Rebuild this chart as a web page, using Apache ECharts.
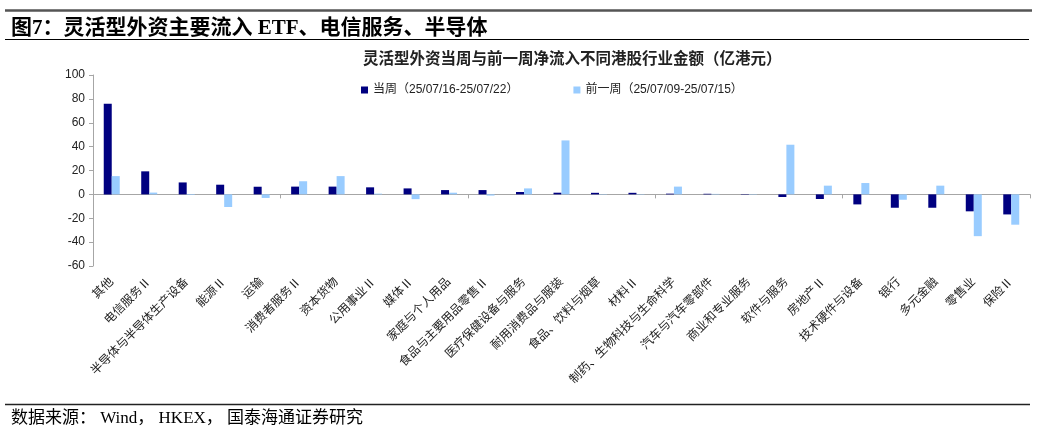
<!DOCTYPE html>
<html><head><meta charset="utf-8">
<script src="https://cdn.jsdelivr.net/npm/echarts@6/dist/echarts.min.js"></script>
<style>html,body{margin:0;padding:0;background:#fff}#c{width:1037px;height:430px}</style>
</head><body><div id="c"></div>
<script>
const categories = ['其他','电信服务Ⅱ','半导体与半导体生产设备','能源Ⅱ','运输','消费者服务Ⅱ','资本货物','公用事业Ⅱ','媒体Ⅱ','家庭与个人用品','食品与主要用品零售Ⅱ','医疗保健设备与服务','耐用消费品与服装','食品、饮料与烟草','材料Ⅱ','制药、生物科技与生命科学','汽车与汽车零部件','商业和专业服务','软件与服务','房地产Ⅱ','技术硬件与设备','银行','多元金融','零售业','保险Ⅱ'];
const currentWeek = [76, 19.3, 10, 8.1, 6.4, 6.5, 6.5, 5.9, 5, 3.6, 3.6, 2, 1.4, 1.3, 1.3, 0.6, 0.5, -0.3, -2.2, -3.9, -8.4, -11.2, -11.2, -14.2, -16.8];
const prevWeek = [15.3, 1.5, -0.5, -10.6, -3, 11, 15.3, 0.6, -4, 1.4, -1, 5, 45.2, 0.3, 0.3, 6.5, 0.4, -0.3, 41.6, 7.3, 9.5, -4.5, 7.3, -35, -25.4];
const seriesNames = ['当周（25/07/16-25/07/22）','前一周（25/07/09-25/07/15）'];
const yTicks = {min: -60, max: 100, interval: 20};

const chart = echarts.init(document.getElementById('c'));
const cjk = '"Liberation Serif","Noto Sans CJK SC",serif';
const sans = 'Liberation Sans, Arial, "Noto Sans CJK SC", sans-serif';
chart.setOption({
  animation: false,
  title: [
    {text: '图7：灵活型外资主要流入 ETF、电信服务、半导体', left: 6, top: 13,
     textStyle: {fontFamily: cjk, fontSize: 21, fontWeight: 'bold', color: '#000'}},
    {text: '灵活型外资当周与前一周净流入不同港股行业金额（亿港元）', left: 358, top: 47,
     textStyle: {fontFamily: cjk, fontSize: 15.5, fontWeight: 'bold', color: '#222'}},
    {text: '数据来源： Wind， HKEX， 国泰海通证券研究', left: 6, top: 405,
     textStyle: {fontFamily: cjk, fontSize: 17, fontWeight: 'normal', color: '#000'}}
  ],
  graphic: [
    {type: 'line', shape: {x1: 5, y1: 10.5, x2: 1032, y2: 10.5}, style: {stroke: '#555', lineWidth: 2.5}},
    {type: 'line', shape: {x1: 5, y1: 39.5, x2: 1029, y2: 39.5}, style: {stroke: '#000', lineWidth: 1.2}},
    {type: 'line', shape: {x1: 5, y1: 404.5, x2: 1030, y2: 404.5}, style: {stroke: '#222', lineWidth: 1.5}}
  ],
  legend: {
    data: seriesNames, left: 356, top: 79, itemWidth: 7, itemHeight: 7, itemGap: 55,
    icon: 'rect',
    textStyle: {fontFamily: sans, fontSize: 12, color: '#222'}
  },
  grid: {left: 93, right: 7, top: 75, bottom: 164},
  xAxis: [
    {type: 'category', data: categories, boundaryGap: true,
     axisLine: {onZero: true, lineStyle: {color: '#a6a6a6', width: 1}},
     axisTick: {show: true, length: 4, lineStyle: {color: '#a6a6a6'}},
     axisLabel: {show: false}},
    {type: 'category', data: categories, position: 'bottom', boundaryGap: true,
     axisLine: {show: false, onZero: false}, axisTick: {show: false},
     axisLabel: {show: true, rotate: 45, interval: 0, margin: 14,
       fontFamily: cjk, fontSize: 12, color: '#222'}}
  ],
  yAxis: {type: 'value', min: yTicks.min, max: yTicks.max, interval: yTicks.interval,
    axisLine: {show: true, lineStyle: {color: '#a6a6a6'}},
    axisTick: {show: true, length: 4, lineStyle: {color: '#a6a6a6'}},
    splitLine: {show: false},
    axisLabel: {fontFamily: sans, fontSize: 12, color: '#222', margin: 8}},
  series: [
    {name: seriesNames[0], type: 'bar', data: currentWeek, barWidth: 8, barGap: '0%',
     itemStyle: {color: '#000080'}},
    {name: seriesNames[1], type: 'bar', data: prevWeek, barWidth: 8, barGap: '0%',
     itemStyle: {color: '#99ccff'}}
  ]
});
</script></body></html>
